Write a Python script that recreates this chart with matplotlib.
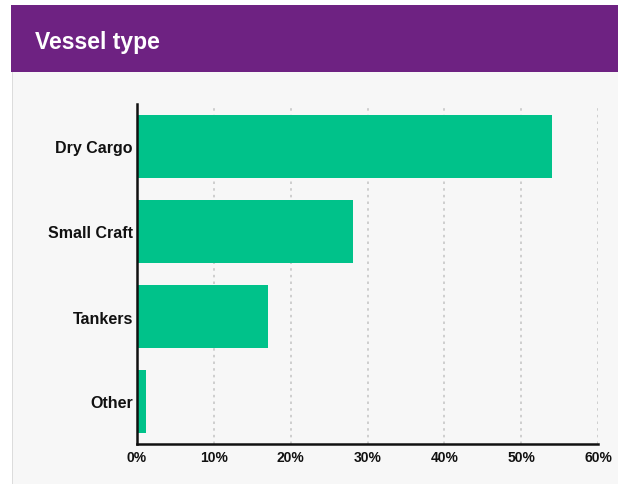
import matplotlib
matplotlib.use("Agg")
import matplotlib.pyplot as plt
from matplotlib.patches import Rectangle
from matplotlib.ticker import FuncFormatter

categories = ["Dry Cargo", "Small Craft", "Tankers", "Other"]
values = [54.0, 28.1, 17.1, 1.2]
xticks = [0, 10, 20, 30, 40, 50, 60]
title = "Vessel type"

W, H = 618, 485
fig = plt.figure(figsize=(W / 100, H / 100), dpi=100)
fig.patch.set_facecolor("white")

# gray panel + header
fig.patches.append(Rectangle((12 / W, 0), 1, 1 - 73 / H, transform=fig.transFigure,
                             facecolor="#f7f7f7", edgecolor="none", zorder=-10))
fig.patches.append(Rectangle((12 / W, 0), 1.5 / W, 1 - 73 / H, transform=fig.transFigure,
                             facecolor="#dcdcdc", edgecolor="none", zorder=-9))
fig.patches.append(Rectangle((11 / W, 1 - 73 / H), 1, 67 / H, transform=fig.transFigure,
                             facecolor="#6e2282", edgecolor="none", zorder=-9))
fig.text(35 / W, 1 - 42 / H, title, color="white", fontsize=16.5, fontweight="bold",
         family="Liberation Sans", va="center", ha="left")

ax = fig.add_axes([137 / W, 1 - 445 / H, (598 - 137) / W, (445 - 105) / H])
ax.set_facecolor("none")
y = list(range(len(categories)))
ax.barh(y, values, height=0.73, color="#00c28a", zorder=3)
ax.set_xlim(0, 60)
ax.set_ylim(3.5, -0.5)
ax.set_yticks(y)
ax.set_yticklabels(categories, fontsize=11.5, fontweight="bold", family="Liberation Sans")
ax.set_xticks(xticks)
ax.xaxis.set_major_formatter(FuncFormatter(lambda v, p: f"{v:.0f}%"))
for lab in ax.get_xticklabels():
    lab.set_fontsize(10)
    lab.set_fontweight("bold")
    lab.set_family("Liberation Sans")
ax.tick_params(axis="both", length=0, colors="#111111")
ax.tick_params(axis="y", pad=3)
ax.tick_params(axis="x", pad=4)
ax.grid(axis="x", linestyle=(0, (1.5, 2.5)), color="#c8c8c8", linewidth=1.2, zorder=0)
ax.grid(axis="y", visible=False)
for s in ["top", "right"]:
    ax.spines[s].set_visible(False)
ax.spines["left"].set_color("#111111")
ax.spines["left"].set_linewidth(1.8)
ax.spines["left"].set_zorder(4)
ax.spines["bottom"].set_color("#111111")
ax.spines["bottom"].set_linewidth(1.8)
ax.set_axisbelow(True)

fig.savefig("out.png", dpi=100)
